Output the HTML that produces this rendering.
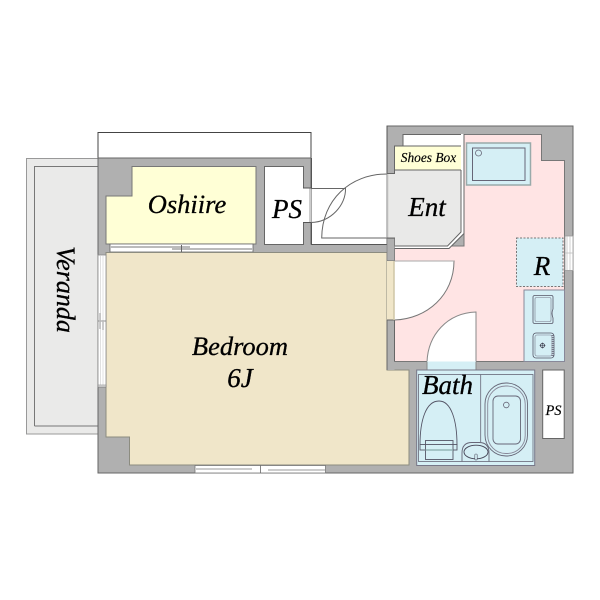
<!DOCTYPE html>
<html><head><meta charset="utf-8"><style>html,body{margin:0;padding:0;background:#fff}svg{display:block}text{font-family:"Liberation Serif",serif;font-style:italic;fill:#000;stroke:#000;stroke-width:.3}</style></head><body>
<svg width="600" height="600" viewBox="0 0 600 600" xmlns="http://www.w3.org/2000/svg">
<!-- balcony top box -->
<rect x="98" y="132.500" width="213" height="26" fill="#fff" stroke="#444" stroke-width="1"/>
<!-- veranda -->
<rect x="26.500" y="158.500" width="71.500" height="275.500" fill="#eaeae9" stroke="#999" stroke-width="1"/>
<path d="M34.500 426V166.500H98M34.500 426H98" fill="none" stroke="#777" stroke-width="1"/>
<!-- walls -->
<path d="M98 158H311V244H387V126H573V473H98Z" fill="#b0b0b0" stroke="#666" stroke-width="1"/>
<!-- entry white -->
<rect x="311.500" y="158" width="75" height="86" fill="#fff"/>
<path d="M311.500 158V244.500H387V126" fill="none" stroke="#555" stroke-width="1"/>
<!-- oshiire -->
<path d="M132 166.500H256V244H106V196H132Z" fill="#ffffd6" stroke="#777" stroke-width="1"/>
<!-- sliding door oshiire/bedroom -->
<rect x="110" y="244" width="143" height="8" fill="#fff" stroke="#666" stroke-width=".8"/>
<path d="M110 247H190M172 249H253" stroke="#bbb" stroke-width="2"/>
<path d="M181.500 245V252" stroke="#666" stroke-width="1"/>
<!-- PS -->
<rect x="264.500" y="166.500" width="39" height="78" fill="#fff" stroke="#666" stroke-width="1"/>
<rect x="303" y="188" width="8.500" height="34.500" fill="#fff"/>
<path d="M303 188H311M303 222.500H311" stroke="#555" stroke-width="1"/>
<path d="M310 188.500V222" stroke="#ccc" stroke-width="2"/>
<!-- bedroom -->
<path d="M106 252.500H387V370H409V465H129.500V437H106Z" fill="#f0e6c9" stroke="#8c8c80" stroke-width="1"/>
<!-- entry door arcs -->
<path d="M311 188.500H345.500C346 205 331 222 311 222.500" fill="none" stroke="#666" stroke-width="1"/>
<path d="M387 174C350 174 322 200 321.700 238H387" fill="none" stroke="#666" stroke-width="1"/>
<!-- pink -->
<path d="M464 134.500H541.500V160.500H564.500V361.500H394.500V246H464Z" fill="#ffe4e4" stroke="#777" stroke-width="1"/>
<!-- shoes white -->
<rect x="403" y="134.500" width="58.500" height="12" fill="#fff" stroke="#666" stroke-width="1"/>
<rect x="394.500" y="146" width="67" height="24" fill="#ffffd6" stroke="#666" stroke-width="1"/>
<!-- ent -->
<path d="M387.500 173.500H394.500V170.500H461V232L447.500 246H394.500V238H387.500Z" fill="#e9e9e8"/>
<path d="M387.500 173.500V238" stroke="#bbb" stroke-width="1.500" fill="none"/>
<path d="M394.500 247.500H448L462.500 233V134" fill="none" stroke="#fff" stroke-width="3"/>
<path d="M394.500 246H447.500L461 232V170M394.500 248.500H449L464 233.500V134" fill="none" stroke="#666" stroke-width="1"/>
<!-- wall bits -->
<path d="M387 173.500H394.500V170M387 238H394.500V246" fill="none" stroke="#666" stroke-width="1"/>
<rect x="387" y="238.500" width="7.500" height="22" fill="#b0b0b0" stroke="#777" stroke-width=".6"/>
<rect x="387" y="261" width="7" height="59" fill="#f0e6c9"/>
<rect x="387" y="320" width="7.500" height="50" fill="#b0b0b0"/>
<path d="M394.500 320V361.500M387 320H394.500M387 370V320" stroke="#666" stroke-width="1" fill="none"/>
<!-- door bedroom -->
<path d="M394 261H454C454 295 427 319 394 320Z" fill="#fff"/>
<path d="M394.500 261H454C454 295 427 319 394.500 320" fill="none" stroke="#777" stroke-width="1"/>
<path d="M394 261V320" stroke="#cfc6a6" stroke-width="1.500"/>
<path d="M394.500 261H454" stroke="#aaa" stroke-width="1"/>
<!-- door bath -->
<path d="M427 362C428 335 447 313 476 312V362Z" fill="#fff" stroke="#888" stroke-width="1"/>
<!-- fridge/washer R -->
<rect x="516.500" y="238" width="46.500" height="48.500" fill="#d5eff5" stroke="#777" stroke-width="1" stroke-dasharray="2 1.500"/>
<!-- tub in room -->
<rect x="466.500" y="143" width="64" height="42" fill="#d5eff5" stroke="#9aa" stroke-width="1.500"/>
<rect x="472.500" y="148" width="52.500" height="32.500" fill="none" stroke="#667" stroke-width="1"/>
<circle cx="478.500" cy="153" r="3" fill="none" stroke="#667" stroke-width=".8"/>
<!-- kitchen -->
<rect x="524" y="290" width="40.500" height="71.500" fill="#d5eff5" stroke="#889" stroke-width="1"/>
<path d="M535 295.500H551.500Q553 295.500 553 297V309Q551 313 553 318V322Q553 323.500 551.500 323.500H535Q533 323.500 533 322V297Q533 295.500 535 295.500Z" fill="none" stroke="#556" stroke-width=".8"/>
<rect x="535" y="297.500" width="16" height="24" rx="1.500" fill="none" stroke="#778" stroke-width=".6"/>
<rect x="533" y="333" width="21" height="25" rx="3" fill="none" stroke="#556" stroke-width=".8"/>
<rect x="535" y="335" width="17" height="21" rx="2" fill="none" stroke="#778" stroke-width=".6"/>
<path d="M552.500 335V356" stroke="#778" stroke-width="2" stroke-dasharray="1 1"/>
<circle cx="542.500" cy="345.500" r="2" fill="none" stroke="#334" stroke-width=".8"/>
<path d="M539.500 345.500H545.500M542.500 342.500V348.500" stroke="#334" stroke-width=".5"/>
<!-- right window -->
<rect x="565" y="236" width="8" height="34.500" fill="#fff" stroke="#999" stroke-width=".8"/>
<path d="M567 236V270M570 236V270M565 253H573" stroke="#bbb" stroke-width=".7"/>
<!-- left window -->
<rect x="98" y="255" width="8" height="132" fill="#fff" stroke="#888" stroke-width=".8"/>
<path d="M100.500 255V387M103 255V387" stroke="#ccc" stroke-width=".6"/>
<path d="M98 321H106" stroke="#777" stroke-width=".8"/>
<path d="M100 313V329M103 321V330" stroke="#bbb" stroke-width="1.500"/>
<rect x="98" y="385" width="8" height="2" fill="#ddd" stroke="#777" stroke-width=".5"/>
<!-- bottom window -->
<rect x="195" y="465.500" width="130.500" height="7.500" fill="#fff" stroke="#777" stroke-width=".8"/>
<path d="M196 469H252M268 470H325" stroke="#bbb" stroke-width="1.500"/>
<path d="M260.500 465.500V473" stroke="#666" stroke-width=".8"/>
<!-- bath -->
<rect x="427" y="361.500" width="49" height="9" fill="#d5eff5"/>
<path d="M427 362V370M476 362V370" stroke="#888" stroke-width="1"/>
<rect x="416.700" y="370" width="118" height="95.500" fill="#d5eff5" stroke="#778" stroke-width="1"/>
<rect x="418.500" y="374.500" width="114.500" height="87" fill="none" stroke="#667" stroke-width=".8"/>
<path d="M480.700 374.500V442" stroke="#667" stroke-width=".8"/>
<rect x="485" y="383" width="42.500" height="73" rx="21" fill="none" stroke="#667" stroke-width=".9"/>
<rect x="487.700" y="386" width="37.500" height="67.500" rx="18" fill="none" stroke="#889" stroke-width=".9"/>
<rect x="493" y="396" width="27.500" height="48" rx="5" fill="none" stroke="#667" stroke-width=".9"/>
<circle cx="506.300" cy="405" r="2.800" fill="none" stroke="#667" stroke-width=".8"/>
<!-- toilet -->
<path d="M420 445C420 420 426 401 439 401C451 401 457 420 457 445" fill="none" stroke="#556" stroke-width=".9"/>
<rect x="420" y="444.500" width="37" height="5.500" fill="none" stroke="#556" stroke-width=".9"/>
<rect x="425.500" y="440.500" width="27.500" height="19" fill="none" stroke="#556" stroke-width=".9"/>
<path d="M425.500 450H453" stroke="#8aa" stroke-width="1.200"/>
<!-- sink -->
<path d="M462 461.500V453Q462 442.500 472 442.500H479Q489 442.500 489 453V461.500" fill="none" stroke="#667" stroke-width=".9"/>
<ellipse cx="476" cy="452" rx="12" ry="6.800" fill="none" stroke="#445" stroke-width=".9"/>
<rect x="474.800" y="454" width="2.400" height="6" rx="1" fill="#d5eff5" stroke="#556" stroke-width=".6"/>
<!-- PS small -->
<rect x="542.700" y="370" width="21.500" height="68.500" fill="#fff" stroke="#666" stroke-width="1"/>
<!-- labels -->
<text x="187" y="213" font-size="26.500" text-anchor="middle">Oshiire</text>
<text x="287" y="218" font-size="27" text-anchor="middle">PS</text>
<text x="427" y="216" font-size="27" text-anchor="middle">Ent</text>
<text x="428.500" y="162" font-size="13.400" text-anchor="middle" style="stroke-width:.15">Shoes Box</text>
<text x="542" y="275" font-size="27" text-anchor="middle">R</text>
<text x="447.500" y="394" font-size="27" text-anchor="middle">Bath</text>
<text x="553.500" y="415" font-size="14.500" text-anchor="middle" style="stroke-width:.15">PS</text>
<text x="240" y="355" font-size="26.500" text-anchor="middle">Bedroom</text>
<text x="240" y="387" font-size="27" text-anchor="middle">6J</text>
<text transform="translate(57 289.500) rotate(90)" font-size="26" text-anchor="middle">Veranda</text>
</svg>
</body></html>
